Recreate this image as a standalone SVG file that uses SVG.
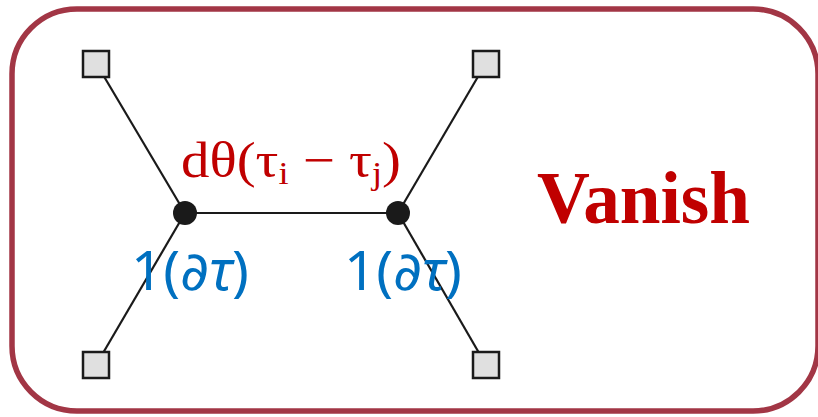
<svg xmlns="http://www.w3.org/2000/svg" width="818" height="417" viewBox="0 0 818 417">
<style>
.sq{fill:#e0e0e0;stroke:#1a1a1a;stroke-width:2.5}
.ln{stroke:#1a1a1a;stroke-width:2.2;fill:none}
.nd{fill:#1a1a1a}
.blue{fill:#0070c0;font-family:"Noto Sans","DejaVu Sans",sans-serif;font-size:54px}
.red{fill:#c00000;font-family:"Liberation Serif","DejaVu Serif",serif}
</style>
<rect x="12" y="9" width="806" height="402" rx="65" ry="65" fill="#fff" stroke="#a23645" stroke-width="5.5"/>
<g id="connectors">
<line class="ln" x1="185" y1="213" x2="96" y2="63"/>
<line class="ln" x1="185" y1="213" x2="96" y2="365"/>
<line class="ln" x1="398" y1="213" x2="486" y2="63"/>
<line class="ln" x1="398" y1="213" x2="486" y2="365"/>
<line class="ln" x1="185" y1="213" x2="398" y2="213"/>
</g>
<g id="sq-tl"><rect class="sq" x="83" y="51" width="26" height="26"/></g>
<g id="sq-bl"><rect class="sq" x="83" y="352" width="26" height="26"/></g>
<g id="sq-tr"><rect class="sq" x="473" y="51" width="26" height="26"/></g>
<g id="sq-br"><rect class="sq" x="473" y="352" width="26" height="26"/></g>
<g id="node-left"><circle class="nd" cx="185" cy="213" r="12"/></g>
<g id="node-right"><circle class="nd" cx="398" cy="213" r="12"/></g>
<g id="label-edge"><text class="red" x="181" y="177" font-size="50" textLength="220" lengthAdjust="spacingAndGlyphs">dθ(τ<tspan font-size="32" dy="7">i</tspan><tspan dy="-7"> − τ</tspan><tspan font-size="32" dy="7">j</tspan><tspan dy="-7">)</tspan></text></g>
<g id="label-left"><text class="blue" x="131" y="290" textLength="118" lengthAdjust="spacingAndGlyphs">1(<tspan font-style="italic">∂τ</tspan>)</text></g>
<g id="label-right"><text class="blue" x="344" y="290" textLength="118" lengthAdjust="spacingAndGlyphs">1(<tspan font-style="italic">∂τ</tspan>)</text></g>
<g id="label-vanish"><text class="red" x="537" y="223" font-size="74" font-weight="bold" textLength="213" lengthAdjust="spacingAndGlyphs">Vanish</text></g>
</svg>
